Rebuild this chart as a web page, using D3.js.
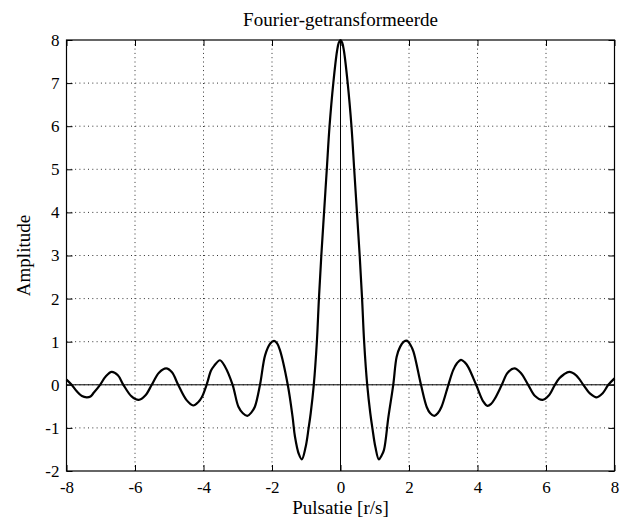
<!DOCTYPE html>
<html>
<head>
<meta charset="utf-8">
<script src="https://cdn.jsdelivr.net/npm/d3@7"></script>
<style>
  body { margin: 0; background: #fff; }
  text { font-family: "Liberation Serif", "Times New Roman", serif; fill: #000; }
</style>
</head>
<body>
<svg id="chart" width="631" height="520"></svg>
<script>
// values
const pulsatie = [
  -8.0, -7.85, -7.7, -7.55, -7.41, -7.3, -7.2, -7.02, -6.85, -6.68, -6.5, -6.34,
  -6.1, -5.89, -5.7, -5.51, -5.3, -5.09, -4.92, -4.74, -4.5, -4.3, -4.15, -4.05,
  -3.91, -3.78, -3.69, -3.52, -3.37, -3.15, -2.98, -2.85, -2.72, -2.6, -2.5, -2.35,
  -2.2, -2.05, -1.94, -1.85, -1.77, -1.54, -1.4, -1.33, -1.22, -1.13, -1.02, -0.93,
  -0.87, -0.78, -0.69, -0.63, -0.56, -0.48, -0.4, -0.32, -0.21, -0.1, -0.05, 0,
  0.05, 0.1, 0.21, 0.32, 0.4, 0.48, 0.56, 0.63, 0.69, 0.78, 0.87, 0.93,
  1.02, 1.12, 1.2, 1.27, 1.4, 1.54, 1.64, 1.74, 1.85, 1.95, 2.04, 2.13,
  2.35, 2.52, 2.62, 2.74, 2.85, 2.95, 3.15, 3.29, 3.4, 3.52, 3.63, 3.73,
  3.96, 4.17, 4.29, 4.4, 4.5, 4.71, 4.88, 5.08, 5.26, 5.48, 5.68, 5.9,
  6.08, 6.26, 6.39, 6.52, 6.68, 6.88, 7.09, 7.28, 7.48, 7.65, 7.82, 8.0
];
const amplitude = [
  0.12, 0.0, -0.15, -0.26, -0.29, -0.27, -0.18, 0.0, 0.2, 0.3, 0.22, 0.0,
  -0.27, -0.35, -0.25, 0.0, 0.28, 0.38, 0.29, 0.0, -0.35, -0.48, -0.4, -0.29,
  0.0, 0.33, 0.44, 0.57, 0.42, 0.0, -0.51, -0.66, -0.72, -0.64, -0.51, 0.0,
  0.69, 0.96, 1.02, 0.96, 0.81, 0.0, -0.74, -1.2, -1.6, -1.73, -1.45, -1.0,
  -0.66, 0.0, 1.0, 2.0, 3.0, 4.0, 5.0, 6.0, 7.0, 7.75, 7.94, 8.0,
  7.94, 7.75, 7.0, 6.0, 5.0, 4.0, 3.0, 2.0, 1.0, 0.0, -0.66, -1.0,
  -1.45, -1.73, -1.64, -1.51, -0.74, 0.0, 0.65, 0.88, 1.0, 1.02, 0.93, 0.77,
  0.0, -0.52, -0.66, -0.72, -0.65, -0.51, 0.0, 0.34, 0.5, 0.58, 0.52, 0.41,
  0.0, -0.39, -0.49, -0.44, -0.33, 0.0, 0.28, 0.38, 0.28, 0.0, -0.26, -0.35,
  -0.25, 0.0, 0.15, 0.24, 0.3, 0.22, 0.0, -0.2, -0.29, -0.2, 0.0, 0.15
];
const xTicks = [-8, -6, -4, -2, 0, 2, 4, 6, 8];
const yTicks = [-2, -1, 0, 1, 2, 3, 4, 5, 6, 7, 8];
const titleText = "Fourier-getransformeerde";
const xLabel = "Pulsatie [r/s]";
const yLabel = "Amplitude";

const svg = d3.select("#chart");
const margin = { top: 40, right: 16.5, bottom: 49, left: 66.5 };
const width = +svg.attr("width");
const height = +svg.attr("height");
const innerWidth = width - margin.left - margin.right;
const innerHeight = height - margin.top - margin.bottom;

const xScale = d3.scaleLinear().domain([-8, 8]).range([0, innerWidth]);
const yScale = d3.scaleLinear().domain([-2, 8]).range([innerHeight, 0]);
const plain = d => String(d); // hyphen-minus like the reference

const g = svg.append("g")
  .attr("transform", `translate(${margin.left},${margin.top})`);

// dotted grid
g.append("g")
  .selectAll("line")
  .data(xTicks.slice(1, -1))
  .join("line")
  .attr("x1", d => xScale(d)).attr("x2", d => xScale(d))
  .attr("y1", 0).attr("y2", innerHeight)
  .attr("stroke", "#333").attr("stroke-width", 1)
  .attr("stroke-dasharray", "1,3.3");

g.append("g")
  .selectAll("line")
  .data(yTicks.slice(1, -1))
  .join("line")
  .attr("x1", 0).attr("x2", innerWidth)
  .attr("y1", d => yScale(d)).attr("y2", d => yScale(d))
  .attr("stroke", "#333").attr("stroke-width", 1)
  .attr("stroke-dasharray", "1,3.3");

// axes, ticks pointing inward on all four sides
const tickLen = 6;
g.append("g")
  .attr("transform", `translate(0,${innerHeight})`)
  .call(d3.axisBottom(xScale).tickValues(xTicks).tickSizeInner(-tickLen).tickSizeOuter(0).tickPadding(10).tickFormat(plain));
g.append("g")
  .attr("class", "bare")
  .call(d3.axisTop(xScale).tickValues(xTicks).tickSizeInner(-tickLen).tickSizeOuter(0));
g.append("g")
  .call(d3.axisLeft(yScale).tickValues(yTicks).tickSizeInner(-tickLen).tickSizeOuter(0).tickPadding(7).tickFormat(plain));
g.append("g")
  .attr("class", "bare")
  .attr("transform", `translate(${innerWidth},0)`)
  .call(d3.axisRight(yScale).tickValues(yTicks).tickSizeInner(-tickLen).tickSizeOuter(0));

g.selectAll(".bare .tick text").remove();
g.selectAll(".domain").remove();
g.selectAll(".tick line").attr("stroke", "#000");
g.selectAll(".tick text")
  .style("font-family", '"Liberation Serif", "Times New Roman", serif')
  .style("font-size", "17px")
  .attr("fill", "#000");

// box
g.append("rect")
  .attr("x", 0).attr("y", 0)
  .attr("width", innerWidth).attr("height", innerHeight)
  .attr("fill", "none").attr("stroke", "#000").attr("stroke-width", 1.2);

// zero lines
g.append("line")
  .attr("x1", 0).attr("x2", innerWidth)
  .attr("y1", yScale(0)).attr("y2", yScale(0))
  .attr("stroke", "#000").attr("stroke-width", 1);
g.append("line")
  .attr("x1", xScale(0)).attr("x2", xScale(0))
  .attr("y1", 0).attr("y2", innerHeight)
  .attr("stroke", "#000").attr("stroke-width", 1);

// curve
const line = d3.line()
  .x((d, i) => xScale(pulsatie[i]))
  .y(d => yScale(d))
  .curve(d3.curveCatmullRom.alpha(0.5));

g.append("path")
  .datum(amplitude)
  .attr("fill", "none")
  .attr("stroke", "#000")
  .attr("stroke-width", 2.2)
  .attr("stroke-linejoin", "round")
  .attr("d", line);

// labels
svg.append("text")
  .attr("x", margin.left + innerWidth / 2)
  .attr("y", 26)
  .attr("text-anchor", "middle")
  .style("font-size", "19px")
  .text(titleText);

svg.append("text")
  .attr("x", margin.left + innerWidth / 2)
  .attr("y", 514)
  .attr("text-anchor", "middle")
  .style("font-size", "19px")
  .text(xLabel);

svg.append("text")
  .attr("transform", `translate(30,${margin.top + innerHeight / 2}) rotate(-90)`)
  .attr("text-anchor", "middle")
  .style("font-size", "19px")
  .text(yLabel);
</script>
</body>
</html>
